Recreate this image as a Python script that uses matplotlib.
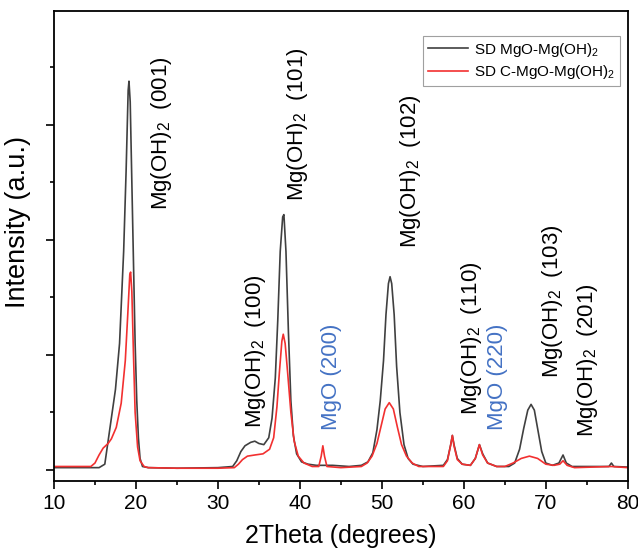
import matplotlib
matplotlib.use("Agg")
import matplotlib.pyplot as plt
from matplotlib.ticker import MultipleLocator, NullFormatter

plt.rcParams["font.family"] = ["Liberation Sans", "DejaVu Sans"]
plt.rcParams["mathtext.default"] = "regular"

# SD MgO-Mg(OH)2 (intensity in arbitrary units)
two_theta_a = [10.0, 12.0, 14.0, 15.5, 16.2, 16.6, 17.0, 17.5, 18.0, 18.5, 18.8, 19.05, 19.15,
               19.3, 19.5, 19.7, 19.9, 20.1, 20.3, 20.5, 20.8, 21.5, 25.0, 30.0, 31.8, 32.3,
               32.8, 33.3, 34.0, 34.5, 35.0, 35.6, 36.2, 36.6, 37.0, 37.3, 37.6, 37.9, 38.05,
               38.3, 38.6, 38.9, 39.2, 39.6, 40.2, 41.0, 42.0, 43.0, 44.0, 46.0, 47.5, 48.3,
               48.9, 49.4, 49.8, 50.2, 50.5, 50.8, 51.0, 51.2, 51.5, 51.8, 52.2, 52.7, 53.2,
               53.8, 55.0, 57.5, 58.0, 58.4, 58.6, 58.8, 59.2, 59.8, 60.8, 61.4, 61.9, 62.3,
               62.9, 64.0, 65.5, 66.2, 66.8, 67.3, 67.8, 68.2, 68.6, 69.0, 69.5, 70.0, 70.8,
               71.6, 72.1, 72.5, 73.2, 77.7, 78.0, 78.3, 80.0]
intensity_a = [0.02, 0.02, 0.02, 0.02, 0.05, 0.25, 0.45, 0.70, 1.10, 1.90, 2.60, 3.30, 3.38,
               3.20, 2.50, 1.80, 1.10, 0.60, 0.28, 0.10, 0.03, 0.02, 0.015, 0.02, 0.03, 0.08,
               0.16, 0.21, 0.24, 0.25, 0.23, 0.22, 0.28, 0.45, 0.80, 1.30, 1.90, 2.20, 2.22,
               1.90, 1.20, 0.60, 0.30, 0.14, 0.07, 0.05, 0.04, 0.04, 0.04, 0.03, 0.04, 0.07,
               0.15, 0.35, 0.60, 0.95, 1.35, 1.62, 1.68, 1.62, 1.35, 0.90, 0.50, 0.22, 0.10,
               0.05, 0.03, 0.04, 0.09, 0.22, 0.30, 0.22, 0.10, 0.05, 0.04, 0.10, 0.22, 0.14,
               0.06, 0.03, 0.03, 0.06, 0.18, 0.36, 0.52, 0.57, 0.52, 0.36, 0.16, 0.06, 0.04,
               0.06, 0.13, 0.06, 0.03, 0.03, 0.06, 0.03, 0.025]

# SD C-MgO-Mg(OH)2
two_theta_b = [10.0, 13.0, 14.5, 15.0, 15.5, 16.0, 16.6, 17.0, 17.6, 18.2, 18.7, 19.0, 19.25,
               19.35, 19.5, 19.7, 19.9, 20.2, 20.5, 21.0, 21.5, 25.0, 30.0, 32.0, 32.5, 33.0,
               33.6, 34.5, 35.5, 36.3, 36.8, 37.2, 37.5, 37.8, 37.97, 38.2, 38.5, 38.9, 39.3,
               39.8, 40.5, 41.5, 42.3, 42.6, 42.8, 43.0, 43.3, 45.0, 47.5, 48.2, 48.8, 49.4,
               49.9, 50.4, 50.9, 51.4, 51.9, 52.4, 53.0, 53.7, 54.5, 57.5, 58.0, 58.4, 58.6,
               58.8, 59.2, 59.8, 60.8, 61.4, 61.9, 62.3, 62.9, 64.0, 65.0, 66.0, 67.0, 68.0,
               69.0, 70.0, 71.0, 71.7, 72.1, 72.6, 73.5, 78.0, 80.0]
intensity_b = [0.03, 0.03, 0.03, 0.06, 0.13, 0.19, 0.23, 0.27, 0.37, 0.58, 0.95, 1.35, 1.70,
               1.72, 1.55, 1.00, 0.50, 0.20, 0.08, 0.03, 0.02, 0.015, 0.015, 0.02, 0.05, 0.09,
               0.12, 0.13, 0.14, 0.18, 0.28, 0.55, 0.85, 1.12, 1.18, 1.10, 0.85, 0.50, 0.25,
               0.12, 0.06, 0.03, 0.03, 0.12, 0.21, 0.12, 0.03, 0.02, 0.03, 0.06, 0.12, 0.23,
               0.38, 0.53, 0.585, 0.53, 0.37, 0.22, 0.12, 0.06, 0.03, 0.03, 0.08, 0.22, 0.30,
               0.21, 0.09, 0.05, 0.04, 0.10, 0.22, 0.13, 0.06, 0.03, 0.03, 0.06, 0.10, 0.12,
               0.10, 0.05, 0.04, 0.05, 0.08, 0.04, 0.02, 0.03, 0.02]

series_names = ["SD MgO-Mg(OH)$_2$", "SD C-MgO-Mg(OH)$_2$"]

# peak labels: text, 2theta, intensity at text start, colour key
peak_texts = ["Mg(OH)$_2$  (001)", "Mg(OH)$_2$  (101)", "Mg(OH)$_2$  (102)",
              "Mg(OH)$_2$  (100)", "MgO (200)", "Mg(OH)$_2$  (110)", "MgO (220)",
              "Mg(OH)$_2$  (103)", "Mg(OH)$_2$  (201)"]
peak_x = [23.17, 39.76, 53.54, 34.63, 43.9, 60.98, 64.15, 70.85, 75.12]
peak_y = [2.26, 2.34, 1.93, 0.365, 0.35, 0.48, 0.35, 0.80, 0.29]
peak_is_mgo = [False, False, False, False, True, False, True, False, False]

fig = plt.figure(figsize=(6.38, 5.54), dpi=100)
ax = fig.add_axes([0.0846, 0.1318, 0.8994, 0.8483])

ax.plot(two_theta_a, intensity_a, color="#404040", lw=1.2, label=series_names[0])
ax.plot(two_theta_b, intensity_b, color="#f23030", lw=1.2, label=series_names[1])

for txt, x, y, mgo in zip(peak_texts, peak_x, peak_y, peak_is_mgo):
    ax.text(x, y, txt, rotation=90, ha="center", va="bottom", fontsize=16,
            color="#4472c4" if mgo else "black")

ax.set_xlim(10, 80)
ax.set_ylim(-0.096, 3.99)
ax.xaxis.set_major_locator(MultipleLocator(10))
ax.xaxis.set_minor_locator(MultipleLocator(5))
ax.yaxis.set_major_locator(MultipleLocator(1))
ax.yaxis.set_minor_locator(MultipleLocator(0.5))
ax.yaxis.set_major_formatter(NullFormatter())
ax.tick_params(which="major", length=6, width=1.2, labelsize=15)
ax.tick_params(which="minor", length=3, width=1.2)
for sp in ax.spines.values():
    sp.set_linewidth(1.3)

ax.set_xlabel("2Theta (degrees)", fontsize=18, labelpad=8)
ax.set_ylabel("Intensity (a.u.)", fontsize=19.5)
ax.yaxis.set_label_coords(-0.04, 0.551)

leg = ax.legend(loc="upper right", bbox_to_anchor=(0.986, 0.947), fontsize=11,
                fancybox=False, edgecolor="#888888", handlelength=2.6,
                borderaxespad=0, handletextpad=0.4, borderpad=0.3, labelspacing=0.3)
leg.get_frame().set_linewidth(0.8)

fig.savefig("out.png", dpi=100)
